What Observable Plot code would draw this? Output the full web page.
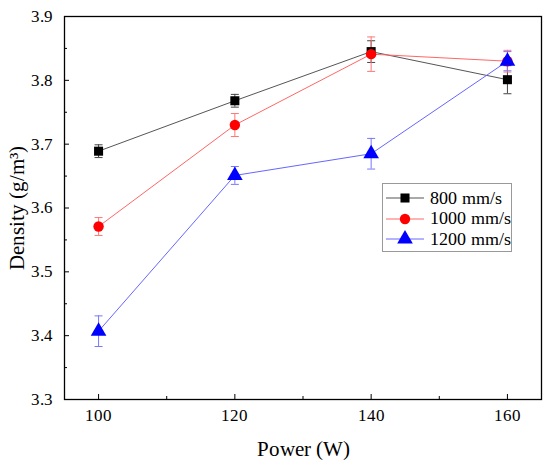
<!DOCTYPE html>
<html>
<head>
<meta charset="utf-8">
<script src="https://cdn.jsdelivr.net/npm/d3@7"></script>
<script src="https://cdn.jsdelivr.net/npm/@observablehq/plot@0.6"></script>
<style>
  @font-face { font-family: "ChartSerif"; src: local("Liberation Serif"), local("LiberationSerif"), local("LiberationSerif-Regular"); }
  body { margin: 0; background: #fff; }
  #wrap { position: relative; width: 550px; height: 467px; font-family: "ChartSerif", "Liberation Serif", "Times New Roman", serif; }
  #wrap svg, #wrap svg text, #wrap svg g { font-family: "ChartSerif", "Liberation Serif", "Times New Roman", serif !important; font-variant: normal !important; font-variant-numeric: normal !important; }
  #legend { position: absolute; left: 382px; top: 183px; width: 130px; height: 69px; border: 1px solid #999; box-sizing: border-box; background: #fff; }
  .row { position: absolute; left: 0; height: 20px; display: flex; align-items: center; font-size: 18px; color: #000; white-space: nowrap; font-family: "ChartSerif", "Liberation Serif", "Times New Roman", serif; }
  .row svg { margin-left: 2px; margin-right: 5px; flex: none; }
</style>
</head>
<body>
<div id="wrap"></div>
<script>
const powers = [100, 120, 140, 160];
const series = ["800 mm/s", "1000 mm/s", "1200 mm/s"];
const density800 = [3.689, 3.768, 3.845, 3.801];
const error800 = [0.010, 0.010, 0.017, 0.022];
const density1000 = [3.571, 3.730, 3.841, 3.830];
const error1000 = [0.014, 0.018, 0.027, 0.017];
const density1200 = [3.407, 3.651, 3.685, 3.830];
const error1200 = [0.024, 0.014, 0.024, 0.015];
const yTicks = [3.3, 3.4, 3.5, 3.6, 3.7, 3.8, 3.9];
const yMinor = [3.35, 3.45, 3.55, 3.65, 3.75, 3.85];
const xTicks = [100, 120, 140, 160];
const xMinor = [110, 130, 150];

const lineColors = ["#555555", "#ff6666", "#6666ff"];
const markColors = ["#000000", "#ff0000", "#0000ff"];
const barColors = ["#444444", "#ff7777", "#7777ff"];
const symbols = ["square", "circle", "triangle"];
const radii = [5.1, 5.2, 5.8];

const tables = [
  [density800, error800],
  [density1000, error1000],
  [density1200, error1200]
].map(([d, e], i) => powers.map((p, j) => ({power: p, density: d[j], err: e[j], s: i})));

const cap = {draw(ctx, size) { const w = 4; ctx.moveTo(-w, 0); ctx.lineTo(w, 0); }};
const serif = "ChartSerif, 'Liberation Serif', serif";

const marks = [Plot.frame({stroke: "#000", strokeWidth: 1.3})];
tables.forEach((t, i) => {
  marks.push(Plot.line(t, {x: "power", y: "density", stroke: lineColors[i], strokeWidth: 1}));
});
tables.forEach((t, i) => {
  marks.push(Plot.ruleX(t, {x: "power", y1: d => d.density - d.err, y2: d => d.density + d.err, stroke: barColors[i], strokeWidth: 1}));
  marks.push(Plot.dot(t, {x: "power", y: d => d.density - d.err, symbol: cap, stroke: barColors[i], strokeWidth: 1}));
  marks.push(Plot.dot(t, {x: "power", y: d => d.density + d.err, symbol: cap, stroke: barColors[i], strokeWidth: 1}));
});
tables.forEach((t, i) => {
  marks.push(Plot.dot(t, {x: "power", y: "density", symbol: symbols[i], r: radii[i], fill: markColors[i], stroke: "none"}));
});
marks.push(
  Plot.axisY(yTicks, {tickSize: -5, tickPadding: 16.5, tickFormat: d3.format(".1f"), fontSize: 17, fontFamily: serif, fontVariant: "normal", label: null}),
  Plot.axisY([], {label: "Density (g/m³)", labelAnchor: "center", labelArrow: "none", labelOffset: 55, fontSize: 21, fontFamily: serif}),
  Plot.axisY(yMinor, {tickSize: -3, text: null, label: null}),
  Plot.axisX(xTicks, {tickSize: -5, tickPadding: 14, fontSize: 17, fontFamily: serif, fontVariant: "normal", label: null}),
  Plot.axisX([], {label: "Power (W)", labelAnchor: "center", labelArrow: "none", labelOffset: 56, fontSize: 21, fontFamily: serif}),
  Plot.axisX(xMinor, {tickSize: -3, text: null, label: null})
);

const chart = Plot.plot({
  width: 550,
  height: 467,
  marginLeft: 64,
  marginRight: 9,
  marginTop: 16,
  marginBottom: 68,
  style: {fontFamily: serif, fontSize: "17px", color: "#000", background: "#fff"},
  x: {domain: [95, 165]},
  y: {domain: [3.3, 3.9]},
  marks
});
const wrap = document.getElementById("wrap");
wrap.appendChild(chart);

const legend = document.createElement("div");
legend.id = "legend";
const ns = "http://www.w3.org/2000/svg";
series.forEach((name, i) => {
  const row = document.createElement("div");
  row.className = "row";
  row.style.top = (4 + i * 20.5) + "px";
  const sv = document.createElementNS(ns, "svg");
  sv.setAttribute("width", 40); sv.setAttribute("height", 20);
  const ln = document.createElementNS(ns, "line");
  ln.setAttribute("x1", 1); ln.setAttribute("x2", 39); ln.setAttribute("y1", 10); ln.setAttribute("y2", 10);
  ln.setAttribute("stroke", lineColors[i]); ln.setAttribute("stroke-width", 1);
  sv.appendChild(ln);
  const p = document.createElementNS(ns, "path");
  p.setAttribute("d", d3.symbol(symbols[i] === "square" ? d3.symbolSquare : symbols[i] === "circle" ? d3.symbolCircle : d3.symbolTriangle, Math.PI * radii[i] * radii[i])());
  p.setAttribute("transform", "translate(20,10)");
  p.setAttribute("fill", markColors[i]);
  sv.appendChild(p);
  row.appendChild(sv);
  const tx = document.createElement("span");
  tx.textContent = name;
  row.appendChild(tx);
  legend.appendChild(row);
});
wrap.appendChild(legend);
</script>
</body>
</html>
